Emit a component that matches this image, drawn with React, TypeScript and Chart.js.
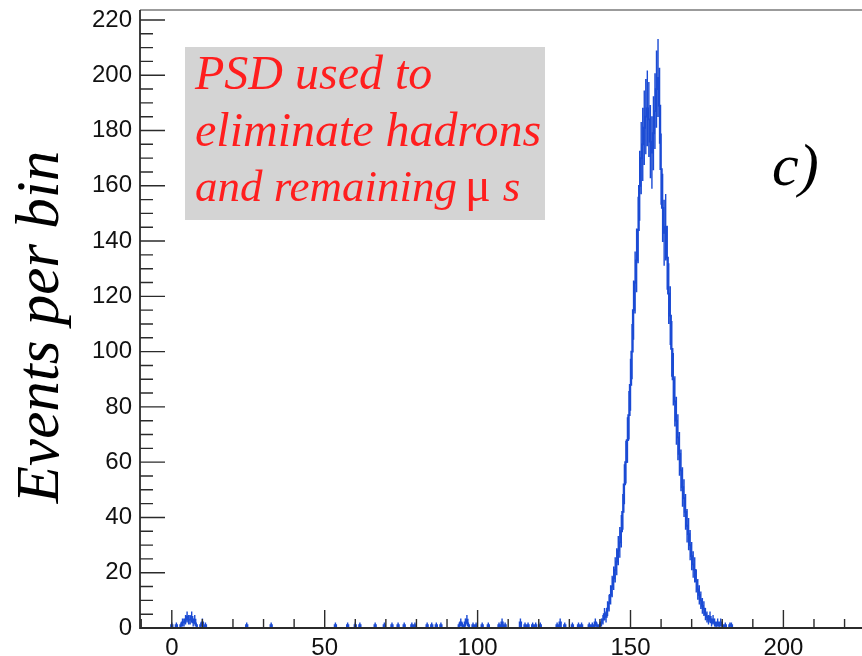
import React, { useEffect, useRef } from 'react';
import { Chart, registerables } from 'chart.js';

Chart.register(...registerables);

// ---- axis ranges ----
const X_MIN = -10.4;
const X_MAX = 225.7;
const Y_MIN = 0;
const Y_MAX = 223.6;

// ---- histogram binning ----
const BIN_WIDTH = 0.5;
const FIRST_BIN = -10;
const LAST_BIN = 225.5;

// ---- tick labels ----
const xTickLabels = [0, 50, 100, 150, 200];
const yTickLabels = [0, 20, 40, 60, 80, 100, 120, 140, 160, 180, 200, 220];
const X_MINOR_STEP = 10;
const Y_MINOR_STEP = 5;

// ---- main peak (bin centres from PEAK_START, step BIN_WIDTH) ----
const PEAK_START = 139;
const peakCounts = [
  1, 0, 1, 2, 3, 5, 4, 7, 9, 12,
  15, 18, 21, 24, 28, 31, 35, 42, 52, 60,
  68, 77, 88, 100, 115, 125, 133, 144, 160, 170,
  175, 181, 185, 188, 184, 176, 172, 179, 187, 195,
  199, 189, 166, 152, 143, 145, 134, 121, 113, 101,
  90, 82, 75, 69, 63, 57, 51, 47, 42, 37,
  34, 30, 26, 23, 21, 17, 14, 12, 10, 8,
  7, 5, 4, 3, 4, 2, 3, 2, 1, 2,
  1, 2, 1, 0, 1, 0, 0, 1, 1,
];

// ---- sparse background events ----
const bgCenters = [
  0, 1.5, 3, 3.5, 4, 4.5, 5, 5.5, 6, 6.5, 7, 7.5, 8, 9.5, 10, 11,
  24.5, 32.5, 53.5, 57.5, 60, 61.5, 66.5, 69.5, 72, 74, 76, 78.5, 79.5,
  83.5, 85, 86.5, 88, 94, 94.5, 95, 96, 96.5, 97, 98.5, 99.5, 101.5,
  103.5, 107, 108, 109, 114, 115.5, 116.5, 118, 119, 120.5, 126, 127,
  128.5, 131, 133, 134, 136.5, 137.5, 138.5,
];
const bgCounts = [
  1, 1, 1, 2, 2, 3, 4, 3, 3, 4, 2, 3, 1, 1, 2, 1,
  1, 1, 1, 1, 1, 1, 1, 1, 1, 1, 1, 1, 1,
  1, 1, 1, 1, 1, 2, 1, 2, 3, 1, 1, 1, 1,
  1, 1, 2, 1, 2, 1, 1, 1, 1, 1, 1, 2,
  1, 1, 1, 1, 1, 1, 2,
];

const HIST_COLOR = '#1b4bd4';
const AXIS_COLOR = '#2b2b2b';
const FRAME_COLOR = '#7a7a7a';

function buildCounts(): number[] {
  const n = Math.round((LAST_BIN - FIRST_BIN) / BIN_WIDTH) + 1;
  const counts = new Array(n).fill(0);
  const idx = (x: number) => Math.round((x - FIRST_BIN) / BIN_WIDTH);
  bgCenters.forEach((c, i) => { counts[idx(c)] = bgCounts[i]; });
  peakCounts.forEach((v, i) => { counts[idx(PEAK_START + i * BIN_WIDTH)] = v; });
  return counts;
}

const rootFrame = {
  id: 'rootFrame',
  afterDatasetsDraw(chart: any) {
    const { ctx, chartArea: a, scales } = chart;
    const xs = scales.x;
    const ys = scales.y;
    ctx.save();
    ctx.lineCap = 'butt';
    // top frame
    ctx.strokeStyle = FRAME_COLOR;
    ctx.lineWidth = 1.5;
    ctx.beginPath();
    ctx.moveTo(a.left, a.top);
    ctx.lineTo(a.right, a.top);
    ctx.stroke();
    // axes
    ctx.strokeStyle = AXIS_COLOR;
    ctx.lineWidth = 1.8;
    ctx.beginPath();
    ctx.moveTo(a.left, a.top);
    ctx.lineTo(a.left, a.bottom);
    ctx.lineTo(a.right, a.bottom);
    ctx.stroke();
    // inward ticks
    ctx.lineWidth = 1.4;
    ctx.beginPath();
    for (let v = Math.ceil(Y_MIN / Y_MINOR_STEP) * Y_MINOR_STEP; v <= Y_MAX; v += Y_MINOR_STEP) {
      const py = ys.getPixelForValue(v);
      const major = yTickLabels.includes(v);
      ctx.moveTo(a.left, py);
      ctx.lineTo(a.left + (major ? 25 : 13), py);
    }
    for (let v = Math.ceil(X_MIN / X_MINOR_STEP) * X_MINOR_STEP; v <= X_MAX; v += X_MINOR_STEP) {
      const px = xs.getPixelForValue(v);
      const major = xTickLabels.includes(v);
      ctx.moveTo(px, a.bottom);
      ctx.lineTo(px, a.bottom - (major ? 18 : 9));
    }
    ctx.stroke();
    ctx.restore();
  },
  afterDraw(chart: any) {
    const { ctx } = chart;
    ctx.save();
    // axis title
    ctx.save();
    ctx.translate(58, 327);
    ctx.rotate(-Math.PI / 2);
    ctx.fillStyle = '#000';
    ctx.font = 'italic 61px "Liberation Serif"';
    ctx.textAlign = 'center';
    ctx.textBaseline = 'alphabetic';
    ctx.fillText('Events per bin', 0, 0);
    ctx.restore();

    // annotation box
    ctx.fillStyle = '#d4d4d4';
    ctx.fillRect(185, 47, 360, 173);
    ctx.fillStyle = '#ff1e1e';
    ctx.textAlign = 'left';
    ctx.textBaseline = 'alphabetic';
    ctx.font = 'italic 48px "Liberation Serif"';
    ctx.fillText('PSD used to', 195, 89);
    ctx.fillText('eliminate hadrons', 195, 146);
    const it3 = 'italic 45px "Liberation Serif"';
    ctx.font = it3;
    const l3 = 'and remaining';
    ctx.fillText(l3, 195, 201);
    let x3 = 195 + ctx.measureText(l3).width + 8;
    ctx.font = 'normal 48px "Liberation Serif"';
    ctx.fillText('\u03bc', x3, 201);
    x3 += ctx.measureText('\u03bc').width + 12;
    ctx.font = it3;
    ctx.fillText('s', x3, 201);

    // panel label
    ctx.fillStyle = '#000';
    ctx.font = 'italic 60px "Liberation Serif"';
    ctx.fillText('c)', 772, 185);
    ctx.restore();
  },
};

export default function App() {
  const ref = useRef<HTMLCanvasElement | null>(null);
  useEffect(() => {
    if (!ref.current) return;
    const counts = buildCounts();
    const histPoints = counts.map((v, i) => ({ x: FIRST_BIN + i * BIN_WIDTH, y: v }));
    const errPoints: { x: number; y: number | null }[] = [];
    counts.forEach((v, i) => {
      if (v > 0) {
        const x = FIRST_BIN + i * BIN_WIDTH;
        const e = Math.sqrt(v);
        errPoints.push({ x, y: v - e }, { x, y: v + e }, { x, y: null });
      }
    });
    const tickFont = { family: '"Liberation Sans", Arial, sans-serif', size: 24 };
    const chart = new Chart(ref.current, {
      type: 'line',
      data: {
        datasets: [
          {
            data: histPoints,
            borderColor: HIST_COLOR,
            borderWidth: 1.8,
            pointRadius: 0,
            stepped: 'middle',
            fill: false,
          },
          {
            data: errPoints,
            borderColor: HIST_COLOR,
            borderWidth: 1.4,
            pointRadius: 0,
            spanGaps: false,
            fill: false,
          },
        ],
      },
      plugins: [rootFrame],
      options: {
        responsive: false,
        animation: false,
        events: [],
        layout: { padding: { left: 0, right: 0, top: 10, bottom: 0 } },
        plugins: { legend: { display: false }, tooltip: { enabled: false }, title: { display: false } },
        scales: {
          x: {
            type: 'linear',
            min: X_MIN,
            max: X_MAX,
            offset: false,
            grid: { display: false, drawTicks: false },
            border: { display: false },
            ticks: { font: tickFont, color: '#111', padding: 6, maxRotation: 0, autoSkip: false },
            afterBuildTicks: (s: any) => { s.ticks = xTickLabels.map((v) => ({ value: v })); },
            afterFit: (s: any) => { s.height = 28; s.paddingLeft = 0; s.paddingRight = 0; },
          },
          y: {
            type: 'linear',
            min: Y_MIN,
            max: Y_MAX,
            grid: { display: false, drawTicks: false },
            border: { display: false },
            ticks: { font: tickFont, color: '#111', padding: 8 },
            afterBuildTicks: (s: any) => { s.ticks = yTickLabels.map((v) => ({ value: v })); },
            afterFit: (s: any) => { s.width = 140; s.paddingTop = 0; s.paddingBottom = 0; },
          },
        },
      },
    });
    return () => chart.destroy();
  }, []);
  return (
    <div style={{ position: 'absolute', left: 0, top: 0, width: 862, height: 656, background: '#fff' }}>
      <canvas ref={ref} width={862} height={656} style={{ display: 'block' }} />
    </div>
  );
}
